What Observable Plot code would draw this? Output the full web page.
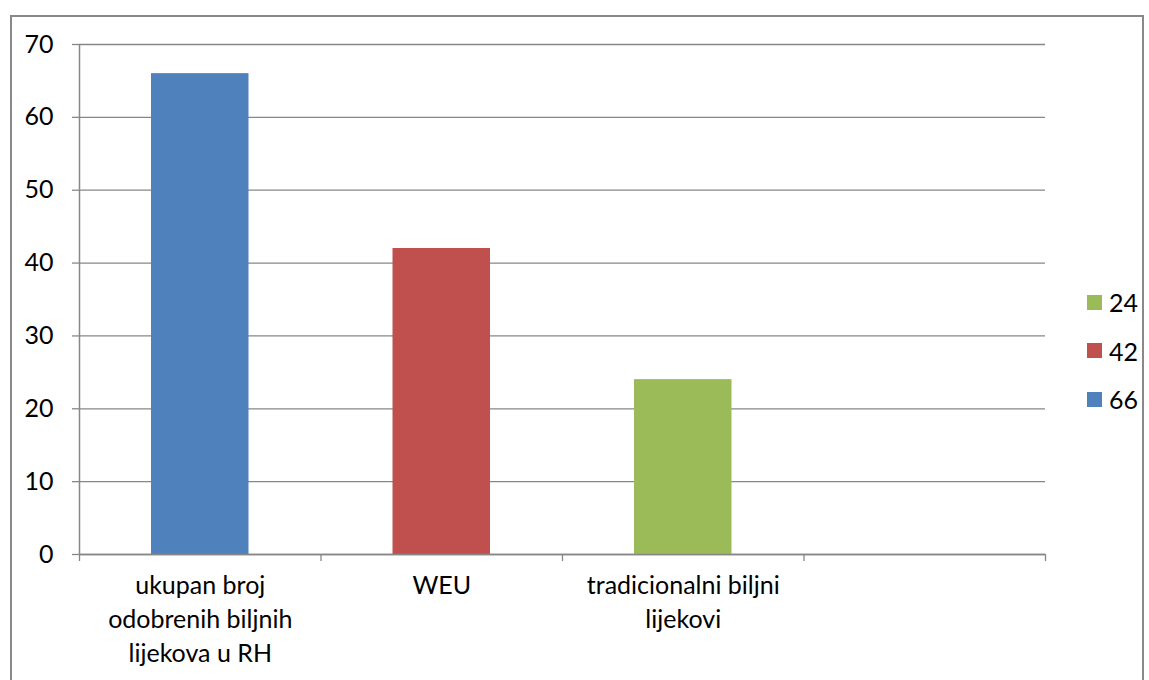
<!DOCTYPE html>
<html>
<head>
<meta charset="utf-8">
<script src="https://cdn.jsdelivr.net/npm/d3@7"></script>
<script src="https://cdn.jsdelivr.net/npm/@observablehq/plot@0.6"></script>
<style>
  html, body { margin: 0; padding: 0; background: #fff; }
  #wrap { position: relative; width: 1149px; height: 680px; overflow: hidden; font-family: Lato, "Open Sans", sans-serif; }
  #frame { position: absolute; left: 10px; top: 15px; width: 1134px; height: 720px; border: 2px solid #898989; box-sizing: border-box; pointer-events: none; }
  #legend { position: absolute; left: 1087px; top: 286px; font-size: 25px; color: #000; }
  .row { display: flex; align-items: center; height: 32px; margin-bottom: 16.5px; }
  .sw { width: 15px; height: 15px; margin-right: 7px; }
  #chart { position: absolute; left: 0; top: 0; }
</style>
</head>
<body>
<div id="wrap">
  <div id="chart"></div>
  <div id="frame"></div>
  <div id="legend"></div>
</div>
<script>
const categories = ["ukupan broj\nodobrenih biljnih\nlijekova u RH", "WEU", "tradicionalni biljni\nlijekovi", ""];
const values = [66, 42, 24, null];
const barColors = ["#4F81BD", "#C0504D", "#9BBB59", null];
const yTicks = [0, 10, 20, 30, 40, 50, 60, 70];
const xBoundaries = [0, 1, 2, 3, 4];
const legendLabels = ["24", "42", "66"];
const legendColors = ["#9BBB59", "#C0504D", "#4F81BD"];

const data = categories.map((c, i) => ({ i, cat: c, value: values[i], color: barColors[i] }));
const bars = data.filter(d => d.value != null);

const grey = "#878787";

const chart = Plot.plot({
  width: 1149,
  height: 680,
  marginLeft: 79,
  marginRight: 104,
  marginTop: 44,
  marginBottom: 126,
  x: { type: "linear", domain: [0, 4], axis: null },
  y: { domain: [0, 70], axis: null },
  style: { fontFamily: "Lato, 'Open Sans', sans-serif", fontSize: "25px", color: "#000", background: "transparent" },
  marks: [
    Plot.gridY(yTicks, { stroke: grey, strokeOpacity: 1, strokeWidth: 1.3 }),
    Plot.rectY(bars, { x1: d => d.i, x2: d => d.i + 1, y: "value", fill: d => d.color, insetLeft: 72, insetRight: 72 }),
    Plot.axisY({ ticks: yTicks, tickSize: 7, tickPadding: 19, stroke: grey, strokeWidth: 1.3, label: null, fontSize: 25, fill: "#000" }),
    Plot.axisX({ ticks: xBoundaries, tickSize: 7, tickFormat: () => "", stroke: grey, strokeWidth: 1.3, label: null }),
    Plot.ruleY([0], { stroke: grey, strokeWidth: 1.5 }),
    Plot.ruleX([0], { stroke: grey, strokeWidth: 1.5 }),
    Plot.text(data, { x: d => d.i + 0.5, y: 0, text: "cat", lineAnchor: "top", dy: 16, lineHeight: 1.35, fontSize: 25, fill: "#000" })
  ]
});
document.getElementById("chart").appendChild(chart);

const legend = document.getElementById("legend");
legendLabels.forEach((l, k) => {
  const row = document.createElement("div");
  row.className = "row";
  const sw = document.createElement("div");
  sw.className = "sw";
  sw.style.background = legendColors[k];
  const t = document.createElement("span");
  t.textContent = l;
  row.appendChild(sw);
  row.appendChild(t);
  legend.appendChild(row);
});
</script>
</body>
</html>
